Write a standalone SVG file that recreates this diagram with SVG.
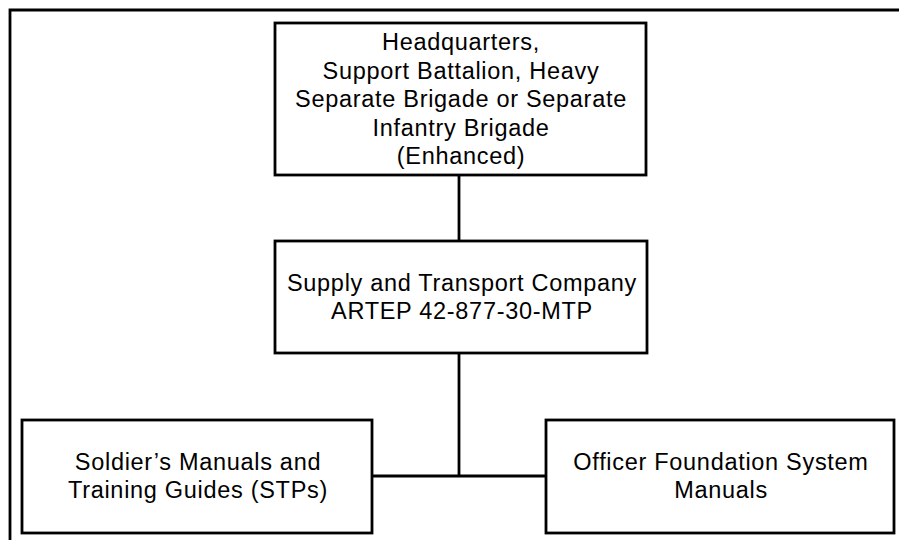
<svg xmlns="http://www.w3.org/2000/svg" width="899" height="540" viewBox="0 0 899 540">
<style>
.box{fill:#fff;stroke:#000;stroke-width:2.8}
.frame{fill:none;stroke:#000;stroke-width:2.8}
.conn{fill:none;stroke:#000;stroke-width:2.8}
text{font-family:"Liberation Sans",Arial,Helvetica,sans-serif;font-size:23.5px;letter-spacing:0.7px;fill:#000;text-anchor:middle}
</style>
<rect x="0" y="0" width="899" height="540" fill="#fff"/>
<path class="frame" d="M10,545 V10 H905"/>
<g id="connectors">
<line class="conn" x1="459" y1="175" x2="459" y2="241"/>
<line class="conn" x1="459" y1="353" x2="459" y2="476"/>
<line class="conn" x1="372" y1="476" x2="546" y2="476"/>
</g>
<g id="hq">
<rect class="box" x="275" y="23" width="371" height="152"/>
<text x="461" y="50">Headquarters,</text>
<text x="461" y="79">Support Battalion, Heavy</text>
<text x="461" y="107">Separate Brigade or Separate</text>
<text x="461" y="136">Infantry Brigade</text>
<text x="461" y="164">(Enhanced)</text>
</g>
<g id="company">
<rect class="box" x="275" y="241" width="372" height="112"/>
<text x="462" y="291">Supply and Transport Company</text>
<text x="462" y="318.5">ARTEP 42-877-30-MTP</text>
</g>
<g id="stp">
<rect class="box" x="22" y="420" width="350" height="113"/>
<text x="198" y="470">Soldier’s Manuals and</text>
<text x="198" y="498">Training Guides (STPs)</text>
</g>
<g id="ofs">
<rect class="box" x="546" y="420" width="348" height="113"/>
<text x="721" y="470">Officer Foundation System</text>
<text x="721" y="498">Manuals</text>
</g>
</svg>
